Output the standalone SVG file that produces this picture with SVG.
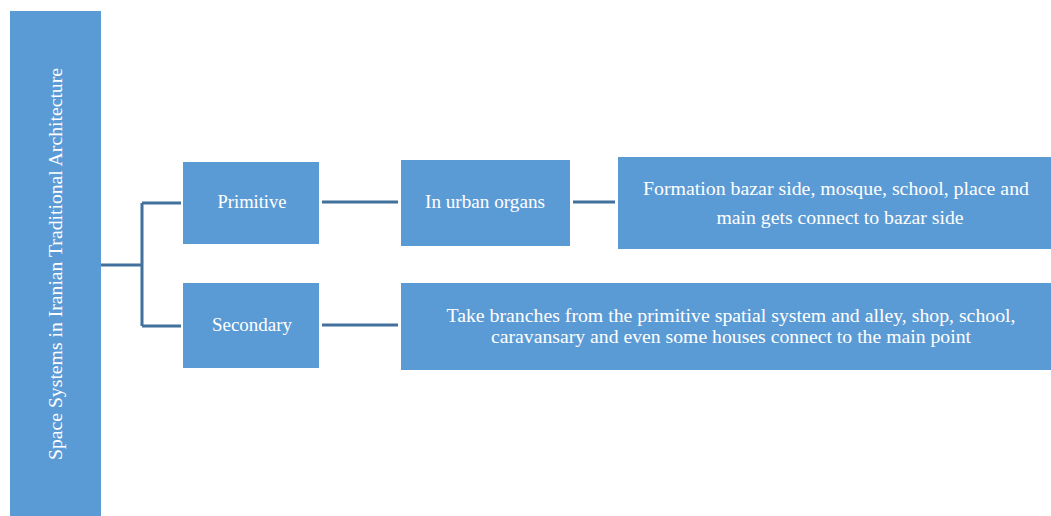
<svg xmlns="http://www.w3.org/2000/svg" width="1051" height="516" viewBox="0 0 1051 516">
<style>
.box{fill:#5b9bd5;}
.t{font-family:"Liberation Serif","Times New Roman",serif;font-size:19px;fill:#ffffff;text-anchor:middle;}
.c{stroke:#41719c;stroke-width:3;fill:none;}
</style>
<rect width="1051" height="516" fill="#ffffff"/>
<g id="connectors">
<path class="c" d="M101 265 H142 M142 203 V326 M142 203 H181 M142 326 H181"/>
<path class="c" d="M322 202 H398"/>
<path class="c" d="M573 202 H615"/>
<path class="c" d="M322 325 H398"/>
</g>
<g id="root">
<rect class="box" x="10" y="11" width="91" height="505"/>
<text class="t" transform="translate(62,264) rotate(-90)" textLength="392" lengthAdjust="spacingAndGlyphs">Space Systems in Iranian Traditional Architecture</text>
</g>
<g id="primitive">
<rect class="box" x="183" y="162" width="136" height="82"/>
<text class="t" x="252" y="208" textLength="69" lengthAdjust="spacingAndGlyphs">Primitive</text>
</g>
<g id="secondary">
<rect class="box" x="183" y="283" width="136" height="85"/>
<text class="t" x="252" y="331" textLength="80" lengthAdjust="spacingAndGlyphs">Secondary</text>
</g>
<g id="urban">
<rect class="box" x="401" y="160" width="169" height="86"/>
<text class="t" x="485" y="208" textLength="120" lengthAdjust="spacingAndGlyphs">In urban organs</text>
</g>
<g id="formation">
<rect class="box" x="618" y="157" width="433" height="92"/>
<text class="t" x="836" y="195" textLength="386" lengthAdjust="spacingAndGlyphs">Formation bazar side, mosque, school, place and</text>
<text class="t" x="840" y="224" textLength="247" lengthAdjust="spacingAndGlyphs">main gets connect to bazar side</text>
</g>
<g id="takebranches">
<rect class="box" x="401" y="283" width="650" height="87"/>
<text class="t" x="731" y="322" textLength="569" lengthAdjust="spacingAndGlyphs">Take branches from the primitive spatial system and alley, shop, school,</text>
<text class="t" x="731" y="343" textLength="480" lengthAdjust="spacingAndGlyphs">caravansary and even some houses connect to the main point</text>
</g>
</svg>
